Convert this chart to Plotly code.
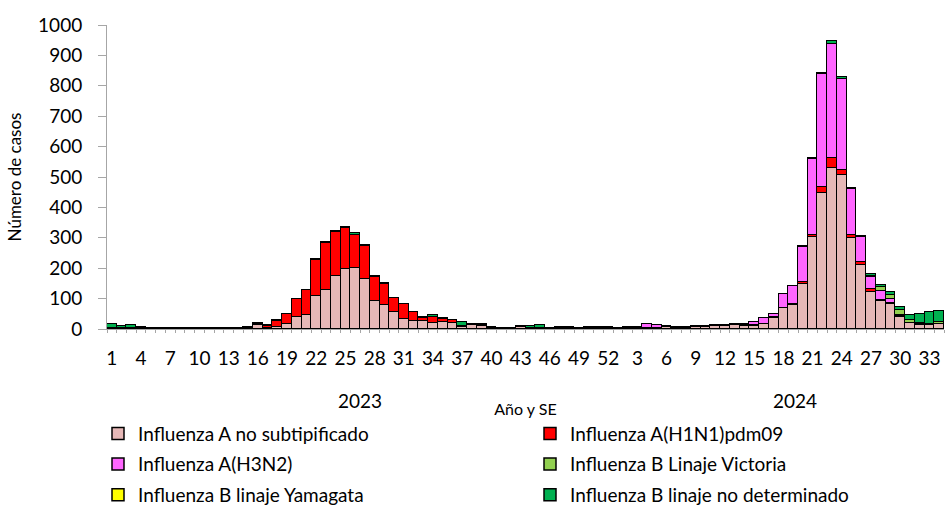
import plotly.graph_objects as go

# ---------------- data ----------------
weeks_2023 = list(range(1, 53))
weeks_2024 = list(range(1, 35))

a_no_subtip = [3, 2, 3, 3, 2, 2, 2, 2, 1, 1, 2, 1, 2, 2, 3, 14, 4, 5, 15, 38, 45, 107, 127, 175, 199, 202,
               166, 91, 80, 56, 32, 26, 26, 21, 23, 20, 7, 12, 11, 2, 2, 2, 6, 3, 3, 2, 3, 4, 2, 4, 3, 3,
               1, 3, 4, 3, 3, 5, 3, 3, 6, 8, 9, 10, 12, 11, 11, 17, 37, 68, 78, 149, 303, 449, 531, 506,
               301, 212, 122, 93, 82, 41, 19, 14, 14, 17]
a_h1n1 = [0, 0, 0, 1, 1, 0, 1, 0, 1, 0, 1, 1, 1, 1, 2, 3, 5, 22, 35, 61, 83, 120, 155, 144, 133, 108,
          107, 80, 68, 45, 50, 30, 11, 20, 10, 9, 2, 2, 1, 1, 1, 1, 1, 0, 0, 1, 0, 1, 0, 1, 1, 1,
          0, 1, 1, 1, 1, 1, 1, 0, 1, 1, 1, 1, 1, 1, 1, 1, 1, 2, 3, 4, 6, 17, 31, 18,
          9, 9, 8, 2, 2, 3, 2, 2, 0, 0]
a_h3n2 = [0] * 52 + [0, 1, 1, 12, 8, 3, 1, 1, 2, 1, 2, 3, 4, 5, 10, 17, 12, 45, 59, 118, 250, 372, 376, 299,
                     151, 81, 40, 30, 16, 2, 0, 3, 0, 0]
b_victoria = [0, 1, 1] + [0] * 33 + [2] + [0] * 15 + [0] * 26 + [4, 13, 11, 16, 9, 2, 3, 7]
b_yamagata = [0] * 86
b_no_det = [12, 7, 8, 2, 1, 1, 0, 1, 0, 1, 1, 0, 1, 1, 1, 3, 3, 1, 1, 1, 1, 2, 4, 2, 2, 6,
            2, 2, 2, 1, 1, 1, 1, 4, 2, 2, 11, 4, 3, 2, 1, 1, 2, 7, 11, 1, 4, 2, 1, 2, 1, 1,
            1, 1, 1, 1, 1, 1, 1, 1, 1, 1, 1, 0, 0, 1, 0, 0, 0, 1, 1, 2, 2, 3, 8, 6,
            3, 3, 7, 8, 11, 11, 16, 30, 38, 36]

series_names = ["Influenza A no subtipificado", "Influenza A(H1N1)pdm09", "Influenza A(H3N2)",
                "Influenza B Linaje Victoria", "Influenza B linaje Yamagata", "Influenza B linaje no determinado"]
series_values = [a_no_subtip, a_h1n1, a_h3n2, b_victoria, b_yamagata, b_no_det]
series_colors = ["#E6B8B7", "#FF0000", "#FF66FF", "#92D050", "#FFFF00", "#00B050"]

year_labels = ["2023", "2024"]

# ---------------- figure ----------------
week_labels = [str(w) for w in weeks_2023] + [str(w) for w in weeks_2024]
x_idx = list(range(len(week_labels)))
tickvals = [i for i, w in enumerate(week_labels) if (i < 52 and int(w) % 3 == 1) or (i >= 52 and int(w) % 3 == 0)]
ticktext = [week_labels[i] for i in tickvals]

FONT = "Lato, 'Liberation Sans', Arial, sans-serif"
PLOT_LEFT, PLOT_RIGHT = 107, 944
PLOT_TOP, PLOT_BOTTOM = 25, 333
def paper_y(py):
    return (PLOT_BOTTOM - py) / (PLOT_BOTTOM - PLOT_TOP)
def paper_x(px):
    return (px - PLOT_LEFT) / (PLOT_RIGHT - PLOT_LEFT)

# one legend per entry: 2 columns x 3 rows
legend_ids = ["legend", "legend2", "legend3", "legend4", "legend5", "legend6"]
col_left = [98, 530]
row_mid = [439, 470, 501]

fig = go.Figure()
for name, vals, col, lg in zip(series_names, series_values, series_colors, legend_ids):
    fig.add_trace(go.Bar(
        x=x_idx, y=vals, name=name, legend=lg, showlegend=True,
        marker=dict(color=col, line=dict(color="black", width=1.5)),
    ))

legend_layouts = {}
for k, lg in enumerate(legend_ids):
    legend_layouts[lg] = dict(
        orientation="h", x=paper_x(col_left[k % 2]), xanchor="left",
        y=paper_y(row_mid[k // 2]), yanchor="middle",
        font=dict(size=19), itemwidth=30, bgcolor="rgba(0,0,0,0)",
    )

y_range = [0, 1000]

fig.update_layout(
    width=945, height=515, showlegend=True,
    barmode="stack", bargap=0,
    plot_bgcolor="white", paper_bgcolor="white",
    margin=dict(l=107, r=1, t=25, b=182),
    font=dict(family=FONT, color="black", size=19),
    xaxis=dict(
        range=[-0.5, len(week_labels) - 0.5], automargin=False,
        tickmode="array", tickvals=tickvals, ticktext=ticktext, tickangle=0,
        ticks="", showline=True, linecolor="#A6A6A6", linewidth=1,
        showgrid=False, zeroline=False,
        tickfont=dict(size=19), ticklabelstandoff=12,
        minor=dict(tickmode="array", tickvals=[i - 0.5 for i in range(len(week_labels) + 1)],
                   ticks="outside", ticklen=3, tickcolor="#A6A6A6", showgrid=False),
        title=dict(text="Año y SE", font=dict(size=16), standoff=36),
    ),
    yaxis=dict(
        range=y_range, dtick=100, tickmode="linear", tick0=0, automargin=False,
        ticks="outside", ticklen=8, tickcolor="#A6A6A6",
        showline=True, linecolor="#A6A6A6", linewidth=1,
        showgrid=False, zeroline=False,
        tickfont=dict(size=19), ticklabelstandoff=12,
        title=dict(text="Número de casos", font=dict(size=17), standoff=12),
    ),
    yaxis2=dict(
        overlaying="y", side="left", range=y_range, dtick=100, tickmode="linear", tick0=0,
        ticks="inside", ticklen=6, tickcolor="#A6A6A6", showticklabels=False,
        showline=False, showgrid=False, zeroline=False, automargin=False,
    ),
    **legend_layouts,
)

for lab, xpos in zip(year_labels, [25.5, 70.2]):
    fig.add_annotation(text=lab, x=xpos, xref="x", y=paper_y(405), yref="paper",
                       showarrow=False, font=dict(size=19), xanchor="center", yanchor="middle")

fig.write_html("out.html", config={"displayModeBar": False},
               post_script="document.body.style.margin='0';")
